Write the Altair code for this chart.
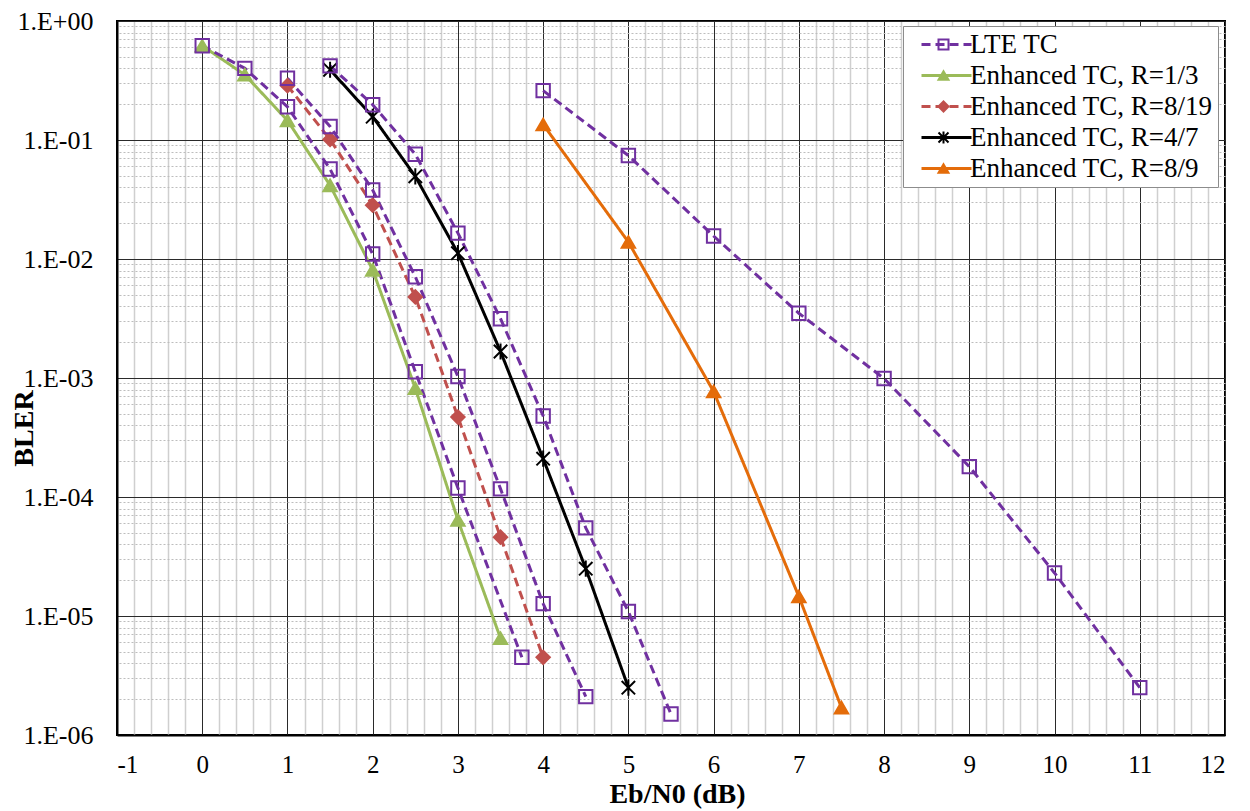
import altair as alt
import pandas as pd

# ---------------- data ----------------
series_names = ["LTE TC", "Enhanced TC, R=1/3", "Enhanced TC, R=8/19",
                "Enhanced TC, R=4/7", "Enhanced TC, R=8/9"]
series_colors = ["#7030A0", "#9BBB59", "#C0504D", "#000000", "#E46C0A"]

# LTE TC reference curves (all drawn with the same style)
lte_a_x = [0, 0.5, 1, 1.5, 2, 2.5, 3, 3.75]
lte_a_y = [0.62, 0.40, 0.19, 0.057, 0.011, 1.13e-3, 1.19e-4, 4.5e-6]
lte_b_x = [1, 1.5, 2, 2.5, 3, 3.5, 4, 4.5]
lte_b_y = [0.33, 0.13, 0.038, 0.0071, 1.03e-3, 1.17e-4, 1.27e-5, 2.1e-6]
lte_c_x = [1.5, 2, 2.5, 3, 3.5, 4, 4.5, 5, 5.5]
lte_c_y = [0.42, 0.198, 0.076, 0.0165, 3.15e-3, 4.8e-4, 5.5e-5, 1.09e-5, 1.5e-6]
lte_d_x = [4, 5, 6, 7, 8, 9, 10, 11]
lte_d_y = [0.26, 0.074, 0.0156, 3.5e-3, 9.9e-4, 1.8e-4, 2.3e-5, 2.5e-6]

# Enhanced TC curves
r13_x = [0, 0.5, 1, 1.5, 2, 2.5, 3, 3.5]
r13_y = [0.62, 0.353, 0.146, 0.0416, 0.0081, 8.2e-4, 6.4e-5, 6.5e-6]
r819_x = [1, 1.5, 2, 2.5, 3, 3.5, 4]
r819_y = [0.286, 0.101, 0.0283, 0.0048, 4.7e-4, 4.6e-5, 4.5e-6]
r47_x = [1.5, 2, 2.5, 3, 3.5, 4, 4.5, 5]
r47_y = [0.389, 0.157, 0.0495, 0.0112, 1.67e-3, 2.1e-4, 2.5e-5, 2.5e-6]
r89_x = [4, 5, 6, 7, 7.5]
r89_y = [0.135, 0.0139, 7.7e-4, 1.46e-5, 1.7e-6]

x_ticks = list(range(-1, 13))
y_ticks = [1, 1e-1, 1e-2, 1e-3, 1e-4, 1e-5, 1e-6]

# ---------------- table ----------------
curves = [
    ("Enhanced TC, R=1/3", "c1", r13_x, r13_y),
    ("Enhanced TC, R=8/19", "c2", r819_x, r819_y),
    ("Enhanced TC, R=4/7", "c3", r47_x, r47_y),
    ("Enhanced TC, R=8/9", "c4", r89_x, r89_y),
    ("LTE TC", "c5", lte_a_x, lte_a_y),
    ("LTE TC", "c6", lte_b_x, lte_b_y),
    ("LTE TC", "c7", lte_c_x, lte_c_y),
    ("LTE TC", "c8", lte_d_x, lte_d_y),
]
rows = []
for name, cid, xs, ys in curves:
    for xv, yv in zip(xs, ys):
        rows.append({"series": name, "series_m": "m_" + name, "curve": cid,
                     "ebn0": xv, "bler": yv})
df = pd.DataFrame(rows)
marker_domain = ["m_" + n for n in series_names]

x_minor = [round(-1 + 0.2 * i, 1) for i in range(66) if i % 5 != 0]
y_minor = [m * 10.0 ** e for e in range(-6, 0) for m in range(2, 10)]

FONT = "Liberation Serif"
x_scale = alt.Scale(domain=[-1, 12], nice=False, zero=False)
y_scale = alt.Scale(type="log", domain=[1e-6, 1], nice=False)

asterisk = "M-1,-1L1,1M-1,1L1,-1M0,-1.2L0,1.2"

legend_lines = alt.Legend(
    title=None, orient="none", legendX=786, legendY=5,
    symbolType="M-2.5,0H2.5", symbolSize=400, symbolStrokeWidth=3,
    symbolOffset=25, labelOffset=10, labelFont=FONT, labelFontSize=27,
    labelColor="black", labelLimit=500, padding=5, rowPadding=3,
    fillColor="white", strokeColor="#8c8c8c",
)
legend_marks = alt.Legend(
    title=None, orient="none", legendX=808, legendY=5,
    symbolStrokeWidth=2, labelFont=FONT, labelFontSize=27, labelOpacity=0,
    labelExpr="' '", labelLimit=500, padding=5, rowPadding=3,
)

minor_x_axis = alt.Axis(orient="top", values=x_minor, grid=True,
                        gridColor="#cfcfcf", gridWidth=1.5, labels=False,
                        ticks=False, domain=False, title=None)
minor_y_axis = alt.Axis(orient="right", values=y_minor, grid=True,
                        gridColor="#bdbdbd", gridWidth=1, gridDash=[2, 2],
                        labels=False, ticks=False, domain=False, title=None)

main_x_axis = alt.Axis(
    orient="bottom", values=x_ticks, grid=True, gridColor="#2a2a2a", gridWidth=1,
    ticks=False, tickSize=0, labelPadding=17, labelFont=FONT, labelFontSize=25,
    labelColor="black", labelExpr="'' + datum.value",
    domain=True, domainColor="black", domainWidth=2,
    title="Eb/N0 (dB)", titleFont=FONT, titleFontSize=28, titleFontWeight="bold",
    titleColor="black", titleX=560, titleY=45, titleBaseline="top",
)
main_y_axis = alt.Axis(
    orient="left", values=y_ticks, grid=True, gridColor="#2a2a2a", gridWidth=1,
    ticks=False, tickSize=0, labelPadding=24, labelFont=FONT, labelFontSize=26,
    labelColor="black", domain=True, domainColor="black", domainWidth=2,
    labelExpr="'1.E' + (round(log(datum.value)/LN10) >= 0 ? '+' : '-') + "
              "(abs(round(log(datum.value)/LN10)) < 10 ? '0' : '') + "
              "abs(round(log(datum.value)/LN10))",
    title="BLER", titleFont=FONT, titleFontSize=28, titleFontWeight="bold",
    titleColor="black", titleX=-79, titleY=407,
)

lines = alt.Chart(df).mark_line(strokeWidth=3).encode(
    x=alt.X("ebn0:Q", scale=x_scale, axis=minor_x_axis),
    y=alt.Y("bler:Q", scale=y_scale, axis=minor_y_axis),
    color=alt.Color("series:N", scale=alt.Scale(domain=series_names, range=series_colors),
                    legend=legend_lines),
    strokeDash=alt.StrokeDash("series:N",
                              scale=alt.Scale(domain=series_names,
                                              range=[[9, 5], [1, 0], [9, 5], [1, 0], [1, 0]]),
                              legend=legend_lines),
    detail="curve:N",
)

points = alt.Chart(df).mark_point(filled=True, opacity=1, size=180, strokeWidth=2).encode(
    x=alt.X("ebn0:Q", scale=x_scale, axis=main_x_axis),
    y=alt.Y("bler:Q", scale=y_scale, axis=main_y_axis),
    shape=alt.Shape("series_m:N",
                    scale=alt.Scale(domain=marker_domain,
                                    range=["square", "triangle-up", "diamond", asterisk, "triangle-up"]),
                    legend=legend_marks),
    fill=alt.Fill("series_m:N",
                  scale=alt.Scale(domain=marker_domain,
                                  range=["transparent", "#9BBB59", "#C0504D", "#000000", "#E46C0A"]),
                  legend=legend_marks),
    stroke=alt.Stroke("series_m:N",
                      scale=alt.Scale(domain=marker_domain, range=series_colors),
                      legend=legend_marks),
)

chart = alt.layer(lines, points).properties(
    width=1108, height=714,
    autosize=alt.AutoSizeParams(type="none"),
    padding={"left": 109, "top": 13, "right": 17, "bottom": 85},
    background="white",
).configure_view(stroke="black", strokeWidth=2)

chart.save("out.html", embed_options={"renderer": "svg", "actions": False})
